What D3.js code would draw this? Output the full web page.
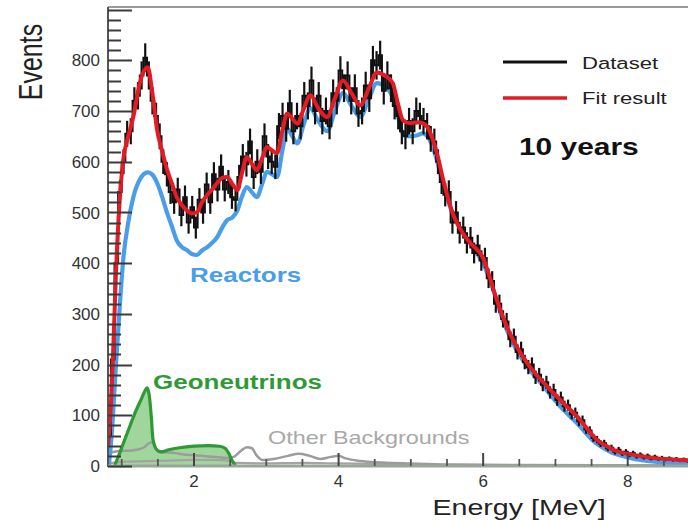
<!DOCTYPE html>
<html><head><meta charset="utf-8">
<script src="https://cdn.jsdelivr.net/npm/d3@7"></script>
<style>
html,body{margin:0;padding:0;background:#fff;}
svg{display:block;font-family:"Liberation Sans",Arial,Helvetica,sans-serif;}
</style></head>
<body>
<svg id="c" width="688" height="520"></svg>
<script>
// ---- data ----
const yTicks = [0,100,200,300,400,500,600,700,800];
const xTicks = [2,4,6,8];

// Dataset: counts per 0.05 MeV bin, first bin centre 0.825 MeV
const dataCounts = [60,210,400,540,600,655,660,720,730,770,805,770,720,690,650,600,575,540,520,545,
495,530,480,510,470,525,500,555,520,575,545,590,545,560,530,525,570,610,595,640,
570,600,580,650,610,600,590,670,690,665,715,660,690,670,730,710,760,700,730,680,
700,670,735,720,780,745,770,720,745,695,700,750,725,800,790,810,740,770,745,710,
690,660,650,680,660,700,690,680,670,645,640,600,560,535,540,480,500,460,470,440,
450,420,435,405,410,370,365,320,320,290,285,250,255,225,230,205,195,200,175,180,
160,165,145,150,130,135,118,120,102,105,88,90,72,70,55,52,44,45,35,36,
28,32,25,28,22,25,19,22,17,20,15,18,14,16,13,15,12,14,11,13,
10,12,9,11];
const dataEnergy = dataCounts.map((d,i) => 0.825 + i*0.05);

// Fit result (red)
const fitE = [0.81,0.85,0.88,0.92,0.97,1.02,1.09,1.16,1.25,1.36,1.42,1.49,1.56,1.63,1.70,1.76,1.83,1.90,1.97,2.04,
2.11,2.18,2.25,2.32,2.39,2.46,2.53,2.60,2.66,2.73,2.80,2.87,2.94,3.01,3.08,3.15,3.22,3.29,3.36,3.43,
3.52,3.61,3.72,3.84,3.95,4.06,4.18,4.30,4.42,4.53,4.64,4.75,4.82,4.89,4.99,5.09,5.16,5.23,5.30,5.36,
5.45,5.58,5.72,5.82,5.92,6.00,6.06,6.19,6.33,6.47,6.65,6.89,7.11,7.34,7.47,7.58,7.70,7.80,8.08,8.35,8.73,9.00];
const fitV = [38,120,220,380,520,603,650,688,755,786,740,662,620,583,555,530,515,504,498,500,
520,534,545,558,568,570,556,544,575,609,596,583,606,629,622,617,660,695,685,675,
705,731,705,688,725,760,735,711,745,776,770,755,715,682,676,678,676,668,645,617,
563,498,459,440,426,410,386,327,274,234,195,156,124,91,68,51,40,32,22,16,12,10];

// Reactors (blue)
const reactorE = [0.82,0.86,0.92,0.98,1.02,1.09,1.16,1.25,1.36,1.42,1.49,1.56,1.63,1.70,1.76,1.83,1.90,1.97,2.04,2.11,
2.18,2.25,2.32,2.39,2.46,2.53,2.60,2.66,2.73,2.80,2.87,2.94,3.01,3.08,3.15,3.22,3.29,3.36,3.43,3.52,
3.61,3.72,3.84,3.95,4.06,4.18,4.30,4.42,4.53,4.64,4.75,4.82,4.89,4.99,5.09,5.16,5.23,5.30,5.36,5.43,
5.50,5.57,5.64,5.73,5.82,5.91,6.00,6.07,6.14,6.28,6.42,6.61,6.83,7.07,7.30,7.52,7.76,8.03,8.41,8.73,9.00];
const reactorV = [0,60,200,330,406,480,530,565,579,575,558,530,498,470,445,432,426,418,416,425,
431,440,451,470,485,490,504,530,550,540,530,555,580,575,570,620,665,650,636,675,
705,680,660,700,735,710,688,725,755,748,727,690,656,650,652,656,650,630,603,565,
530,500,479,458,439,420,400,375,347,285,240,196,158,117,84,50,28,16,8,6,4];

// Geoneutrinos (green)
const geoE = [0.90,0.97,1.05,1.13,1.20,1.27,1.32,1.35,1.38,1.41,1.43,1.46,1.50,1.55,1.65,1.80,2.00,2.20,2.35,2.43,2.48,2.53,2.58];
const geoV = [0,25,55,85,110,132,148,154,140,95,55,38,30,28,32,36,39,40,39,35,25,10,0];

// Other backgrounds (grey)
const bgE = [0.81,0.90,1.00,1.10,1.20,1.30,1.38,1.43,1.48,1.55,1.70,1.90,2.10,2.30,2.45,2.55,2.65,2.73,2.80,2.87,
2.95,3.10,3.30,3.45,3.60,3.75,3.90,4.00,4.10,4.30,4.60,5.00,5.50,6.50,9.00];
const bgV = [25,28,30,30,32,36,45,47,32,28,26,22,20,18,16,18,30,37,35,20,
12,14,20,24,20,14,18,20,15,10,7,5,3,2,1];
const bg2E = [0.81,1.00,1.50,2.00,2.30,2.50,2.60,3.00,3.50,4.00,5.00,6.00,9.00];
const bg2V = [5,8,10,12,12,10,6,5,6,5,3,2,1];

// ---- drawing ----
const svg = d3.select("#c");
const x = d3.scaleLinear().domain([0.81, 9.0]).range([108, 700]);
const y = d3.scaleLinear().domain([0, 905]).range([466, 7]);

svg.append("defs").append("clipPath").attr("id","plot")
  .append("rect").attr("x",108).attr("y",7).attr("width",592).attr("height",459);

const g = svg.append("g").attr("clip-path","url(#plot)");
const line = (E,V) => d3.line().x((d,i)=>x(E[i])).y((d,i)=>y(V[i])).curve(d3.curveMonotoneX)(V);
const area = (E,V) => d3.area().x((d,i)=>x(E[i])).y0(y(0)).y1((d,i)=>y(V[i])).curve(d3.curveMonotoneX)(V);

// geoneutrinos
g.append("path").attr("d", area(geoE,geoV)).attr("fill","#8fcf89").attr("fill-opacity",0.85);
// grey backgrounds
g.append("path").attr("d", line(bg2E,bg2V)).attr("fill","none").attr("stroke","#a3a3a3").attr("stroke-width",2.2);
g.append("path").attr("d", line(bgE,bgV)).attr("fill","none").attr("stroke","#9c9c9c").attr("stroke-width",2.5);
g.append("path").attr("d", line(geoE,geoV)).attr("fill","none").attr("stroke","#2e9a35").attr("stroke-width",3.2);
// reactors
g.append("path").attr("d", line(reactorE,reactorV)).attr("fill","none").attr("stroke","#4a9de9").attr("stroke-width",4.2);
// dataset: step histogram + error bars
const step = d3.line().x((d,i)=>x(dataEnergy[i])).y(d=>y(d)).curve(d3.curveStep);
g.append("path").attr("d", step(dataCounts)).attr("fill","none").attr("stroke","#111").attr("stroke-width",2);
const dg = g.append("g").attr("stroke","#111").attr("stroke-width",2.2);
dataCounts.forEach((v,i) => {
  const e = dataEnergy[i], s = Math.sqrt(v);
  dg.append("line").attr("x1",x(e)).attr("x2",x(e)).attr("y1",y(v-s)).attr("y2",y(v+s));
});
// fit
g.append("path").attr("d", line(fitE,fitV)).attr("fill","none").attr("stroke","#e41b23").attr("stroke-width",4);

// frame
svg.append("line").attr("x1",108).attr("x2",700).attr("y1",7).attr("y2",7).attr("stroke","#7a7a7a").attr("stroke-width",1.6);
svg.append("line").attr("x1",108).attr("x2",108).attr("y1",7).attr("y2",467).attr("stroke","#555").attr("stroke-width",2);
svg.append("line").attr("x1",108).attr("x2",700).attr("y1",466).attr("y2",466).attr("stroke","#98a598").attr("stroke-width",3);

// y axis ticks (inward) and labels
const yMinor = d3.range(0, 905, 20).filter(v => v % 100 !== 0);
yTicks.concat([900]).forEach(v => svg.append("line").attr("x1",108).attr("x2",132)
  .attr("y1",Math.round(y(v))+0.5).attr("y2",Math.round(y(v))+0.5).attr("stroke","#3a3a3a").attr("stroke-width",2));
yMinor.forEach(v => svg.append("line").attr("x1",108).attr("x2",121)
  .attr("y1",Math.round(y(v))+0.5).attr("y2",Math.round(y(v))+0.5).attr("stroke","#3a3a3a").attr("stroke-width",2));
svg.append("g").selectAll("text").data(yTicks).join("text")
  .attr("x",100).attr("y",d=>y(d)).attr("dy","0.36em").attr("text-anchor","end")
  .attr("font-size",17).attr("fill","#333").text(d=>d);

// x axis ticks (inward) and labels
const xMinor = d3.range(1, 9.01, 0.5).filter(v => v % 2 !== 0);
xTicks.forEach(v => svg.append("line").attr("x1",x(v)).attr("x2",x(v)).attr("y1",466).attr("y2",453)
  .attr("stroke","#444").attr("stroke-width",2));
xMinor.forEach(v => svg.append("line").attr("x1",x(v)).attr("x2",x(v)).attr("y1",466).attr("y2",459)
  .attr("stroke","#555").attr("stroke-width",1.8));
svg.append("g").selectAll("text").data(xTicks).join("text")
  .attr("x",d=>x(d)).attr("y",487).attr("text-anchor","middle")
  .attr("font-size",17).attr("fill","#333").text(d=>d);

// axis titles
svg.append("text").attr("transform","translate(42,62) scale(1.3,1) rotate(-90)")
  .attr("text-anchor","middle").attr("font-size",25).attr("fill","#222").text("Events");
svg.append("text").attr("transform","translate(519,515) scale(1.3,1)")
  .attr("text-anchor","middle").attr("font-size",22).attr("fill","#222").text("Energy [MeV]");

// legend
svg.append("line").attr("x1",503).attr("x2",567).attr("y1",62).attr("y2",62).attr("stroke","#111").attr("stroke-width",3);
svg.append("line").attr("x1",503).attr("x2",567).attr("y1",98).attr("y2",98).attr("stroke","#e41b23").attr("stroke-width",3.5);
svg.append("text").attr("transform","translate(582,69) scale(1.3,1)").attr("font-size",17).attr("fill","#222").text("Dataset");
svg.append("text").attr("transform","translate(582,104) scale(1.3,1)").attr("font-size",17).attr("fill","#222").text("Fit result");
svg.append("text").attr("transform","translate(519,155) scale(1.3,1)").attr("font-size",23).attr("font-weight","bold").attr("fill","#111").text("10 years");

// labels
svg.append("text").attr("transform","translate(190,282) scale(1.3,1)").attr("font-size",20).attr("font-weight","bold").attr("fill","#4a9de9").text("Reactors");
svg.append("text").attr("transform","translate(153,389) scale(1.3,1)").attr("font-size",20).attr("font-weight","bold").attr("fill","#2e9a35").text("Geoneutrinos");
svg.append("text").attr("transform","translate(268,444) scale(1.3,1)").attr("font-size",18).attr("fill","#a8a8a8").text("Other Backgrounds");
</script>
</body></html>
